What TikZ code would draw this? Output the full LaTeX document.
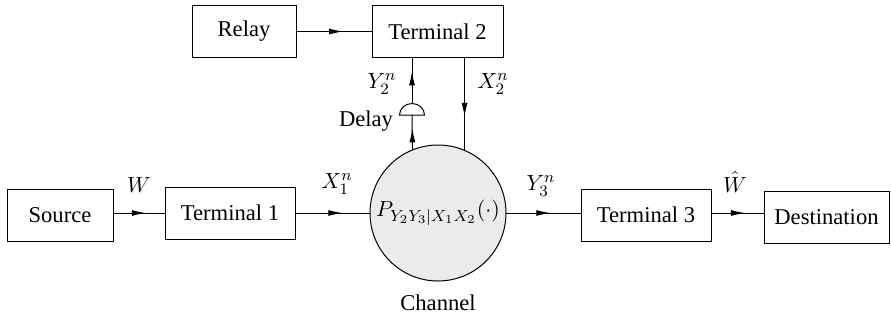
\documentclass[tikz,border=0pt]{standalone}
\usepackage{fontspec}
\setmainfont{Liberation Serif}[Ligatures=TeX]
\usetikzlibrary{decorations.markings,arrows.meta}
\begin{document}
\begin{tikzpicture}[x=0.5pt,y=-0.5pt,
  font=\fontsize{11.3}{13.5}\selectfont,
  blk/.style={draw, line width=0.5pt, minimum height=26pt, inner sep=0pt, outer sep=0pt},
  lbl/.style={inner sep=0pt, outer sep=0pt},
  link/.style={draw, line width=0.5pt},
  midarr/.style={decoration={markings, mark=at position #1 with {\arrow{Latex[length=7pt,width=3pt]}}}, postaction={decorate}}]
\useasboundingbox (0,0) rectangle (891,323);
% boxes
\node[blk, minimum width=53pt] (src) at (60,215.5) {Source};
\node[blk, minimum width=65pt] (t1) at (230,213) {Terminal 1};
\node[blk, minimum width=65pt] (t3) at (646,215) {Terminal 3};
\node[blk, minimum width=62.5pt] (dst) at (826.5,217.5) {Destination};
\node[blk, minimum width=52pt] (relay) at (244,31.5) {Relay};
\node[blk, minimum width=65.5pt] (t2) at (437.5,31.5) {Terminal 2};
% channel
\node[circle, draw, line width=0.5pt, fill=black!8, minimum size=68pt, inner sep=0pt, outer sep=0pt] (chan) at (438,213) {$P_{Y_2Y_3|X_1X_2}(\cdot)$};
\node[lbl] (chanlbl) at (438,303) {Channel};
% delay
\coordinate (dbot) at (412,115);
\coordinate (dtop) at (412,103.5);
\draw[line width=0.5pt] (399.5,115) arc[start angle=180, end angle=360, x radius=12.5, y radius=11.5] -- cycle;
% horizontal links
\draw[link, midarr=0.63] (src.east |- chan) -- (t1.west |- chan);
\draw[link, midarr=0.63] (t1.east |- chan) -- (chan.west);
\draw[link, midarr=0.59] (chan.east) -- (t3.west |- chan);
\draw[link, midarr=0.64] (t3.east |- chan) -- (dst.west |- chan);
\draw[link, midarr=0.62] (relay.east) -- (t2.west);
% vertical links
\draw[link, midarr=0.62] (chan.112.5) -- (dbot);
\draw[link, midarr=0.7] (dtop) -- (t2.south -| dtop);
\draw[link, midarr=0.64] (t2.south -| chan.67.5) -- (chan.67.5);
% labels
\node[lbl] (lw) at (139,185) {$W$};
\node[lbl] (lx1) at (337,184) {$X_1^n$};
\node[lbl] (ly3) at (541,186) {$Y_3^n$};
\node[lbl] (lwh) at (735,182) {$\hat{W}$};
\node[lbl] (ly2) at (382,84) {$Y_2^n$};
\node[lbl] (lx2) at (493,84) {$X_2^n$};
\node[lbl, anchor=east] (ldelay) at (393,121) {Delay};
\end{tikzpicture}
\end{document}
